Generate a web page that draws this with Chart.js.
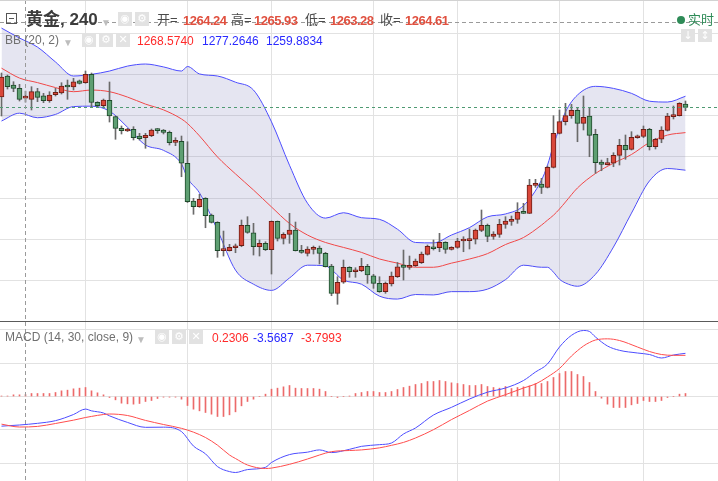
<!DOCTYPE html>
<html>
<head>
<meta charset="utf-8">
<script src="https://cdn.jsdelivr.net/npm/chart.js@4.4.1/dist/chart.umd.min.js"></script>
<style>
  body { margin: 0; background: #fff; font-family: "Liberation Sans", Arial, "Noto Sans CJK SC", sans-serif; }
  #wrap { position: relative; width: 718px; height: 481px; overflow: hidden; }
  #mainBox { position: absolute; left: 0; top: 0; width: 718px; height: 321px; }
  #macdBox { position: absolute; left: 0; top: 322px; width: 718px; height: 159px; }
  .sep { position: absolute; left: 0; top: 321px; width: 718px; height: 1px; background: #5a5a5a; }
  .topline { position: absolute; left: 0; top: 0; width: 718px; height: 1px; background: #d2d2d2; }
  .t { position: absolute; white-space: nowrap; line-height: 16px; }
  .title { font-size: 17px; font-weight: bold; color: #3c3c3c; line-height: 20px; }
  .lbl { font-size: 12px; color: #707070; }
  .eq { font-size: 13px; color: #4a4a4a; }
  .ohlc { font-size: 13px; font-weight: bold; color: #e0503f; letter-spacing: -0.5px; }
  .red { font-size: 12px; color: #ff2a2a; }
  .blue { font-size: 12px; color: #2a2aff; }
  .caret { font-size: 10px; color: #bdbdbd; }
  .btn { position: absolute; width: 14px; height: 14px; background: #e2e2e2; color: #fff;
         font: 11px/14px "DejaVu Sans", sans-serif; text-align: center; }
  .box { position: absolute; left: 6px; top: 13px; width: 9px; height: 9px; border: 1px solid #555; }
  .box:after { content: ""; position: absolute; left: 2px; right: 2px; top: 4px; height: 1px; background: #555; }
  .dot { position: absolute; left: 677px; top: 16px; width: 8px; height: 8px; border-radius: 50%; background: #2e8b57; }
  .live { font-size: 13px; color: #2e8b57; }
</style>
</head>
<body>
<div id="wrap">
  <div id="mainBox"><canvas id="mainChart" width="718" height="321"></canvas></div>
  <div class="sep"></div>
  <div id="macdBox"><canvas id="macdChart" width="718" height="159"></canvas></div>
  <div class="topline"></div>

  <!-- legend, main pane -->
  <div class="box"></div>
  <div class="t title" style="left:26px;top:10px">黄金, 240</div>
  <div class="t caret" style="left:101px;top:15px">▼</div>
  <div class="btn" style="left:118px;top:12px">◉</div>
  <div class="btn" style="left:135px;top:12px">⚙</div>
  <div class="t eq" style="left:157px;top:12px">开=</div>
  <div class="t ohlc" style="left:183px;top:13px">1264.24</div>
  <div class="t eq" style="left:231px;top:12px">高=</div>
  <div class="t ohlc" style="left:254px;top:13px">1265.93</div>
  <div class="t eq" style="left:305px;top:12px">低=</div>
  <div class="t ohlc" style="left:330px;top:13px">1263.28</div>
  <div class="t eq" style="left:380px;top:12px">收=</div>
  <div class="t ohlc" style="left:405px;top:13px">1264.61</div>

  <div class="dot"></div>
  <div class="t live" style="left:688px;top:12px">实时</div>
  <div class="btn" style="left:681px;top:29px;height:13px;line-height:13px">↓</div>
  <div class="btn" style="left:698px;top:29px;height:13px;line-height:13px">↕</div>

  <div class="t lbl" style="left:5px;top:32px">BB (20, 2)</div>
  <div class="t caret" style="left:63px;top:35px">▼</div>
  <div class="btn" style="left:82px;top:33px">◉</div>
  <div class="btn" style="left:99px;top:33px">⚙</div>
  <div class="btn" style="left:116px;top:33px">✕</div>
  <div class="t red" style="left:137px;top:33px">1268.5740</div>
  <div class="t blue" style="left:202px;top:33px">1277.2646</div>
  <div class="t blue" style="left:266px;top:33px">1259.8834</div>

  <!-- legend, MACD pane -->
  <div class="t lbl" style="left:5px;top:329px">MACD (14, 30, close, 9)</div>
  <div class="t caret" style="left:136px;top:332px">▼</div>
  <div class="btn" style="left:155px;top:330px">◉</div>
  <div class="btn" style="left:172px;top:330px">⚙</div>
  <div class="btn" style="left:189px;top:330px">✕</div>
  <div class="t red" style="left:212px;top:330px">0.2306</div>
  <div class="t blue" style="left:253px;top:330px">-3.5687</div>
  <div class="t red" style="left:301px;top:330px">-3.7993</div>
</div>

<script>
// 240-minute gold bars, oldest first
const open = [1264.52,1269.60,1267.42,1266.62,1264.24,1263.96,1265.80,1264.83,1263.62,1265.07,
  1265.48,1267.25,1266.94,1268.46,1267.98,1270.01,1263.23,1262.41,1263.72,1259.75,
  1256.94,1256.28,1256.70,1255.07,1254.66,1255.15,1256.77,1256.53,1255.97,1253.55,
  1253.79,1248.47,1239.34,1237.96,1239.99,1235.95,1234.18,1227.31,1227.31,1228.03,
  1228.52,1233.45,1231.66,1228.27,1229.10,1227.55,1234.42,1230.31,1231.28,1232.32,
  1227.40,1226.68,1227.64,1227.96,1226.68,1223.60,1216.99,1219.66,1223.29,1222.22,
  1222.46,1223.53,1221.25,1219.41,1217.38,1219.24,1221.01,1223.84,1223.29,1223.67,
  1224.40,1226.43,1228.13,1228.03,1229.34,1227.64,1228.13,1229.65,1229.73,1230.07,
  1232.24,1233.45,1230.79,1231.28,1233.70,1234.42,1234.91,1236.51,1236.36,1243.09,
  1243.45,1242.65,1247.50,1255.73,1258.54,1259.99,1261.30,1258.15,1259.92,1255.49,
  1248.78,1248.13,1248.47,1250.40,1252.82,1251.85,1254.66,1255.00,1256.70,1252.48,
  1254.28,1256.45,1259.75,1259.99,1262.82];
const high = [1270.33,1269.84,1268.22,1267.59,1265.93,1267.01,1266.62,1265.41,1265.80,1266.62,
  1267.98,1268.63,1269.04,1268.63,1270.81,1270.33,1263.38,1264.03,1268.15,1259.92,
  1257.50,1256.94,1257.33,1255.73,1255.73,1256.77,1256.89,1256.65,1256.28,1254.66,
  1255.07,1253.69,1239.99,1240.96,1240.14,1236.19,1234.33,1232.07,1228.85,1228.93,
  1234.74,1235.54,1233.94,1229.90,1229.48,1234.50,1234.50,1231.66,1236.36,1234.25,
  1228.61,1228.27,1228.44,1228.44,1226.92,1224.01,1221.01,1225.05,1223.43,1223.19,
  1225.47,1224.01,1221.59,1221.01,1219.73,1222.15,1224.45,1227.47,1226.02,1225.30,
  1226.99,1228.69,1229.90,1231.52,1229.48,1228.27,1230.31,1230.69,1232.56,1232.56,
  1237.16,1233.77,1231.91,1234.91,1235.54,1235.71,1238.93,1238.78,1244.59,1244.59,
  1244.83,1247.81,1259.99,1261.37,1262.99,1262.75,1261.78,1264.76,1261.78,1256.70,
  1249.26,1249.68,1251.03,1254.28,1255.32,1256.12,1255.32,1257.50,1256.94,1254.52,
  1257.33,1260.57,1262.34,1263.14,1263.55];
const low = [1259.92,1266.45,1265.80,1263.55,1263.28,1261.37,1263.38,1263.14,1263.23,1264.76,
  1265.24,1263.96,1266.21,1267.66,1267.83,1262.10,1262.17,1262.17,1258.46,1254.28,
  1255.56,1256.16,1254.11,1254.11,1252.10,1254.91,1255.73,1255.56,1252.90,1252.73,
  1245.22,1238.97,1236.12,1237.81,1232.87,1234.01,1225.71,1226.02,1227.23,1226.82,
  1228.27,1231.52,1226.26,1226.02,1227.35,1221.66,1229.65,1228.93,1229.10,1227.23,
  1226.68,1226.02,1226.51,1224.09,1223.36,1216.41,1214.33,1219.41,1220.87,1220.87,
  1222.22,1219.41,1218.20,1217.23,1216.99,1218.76,1220.82,1220.21,1222.80,1223.48,
  1224.21,1226.26,1227.47,1227.06,1226.68,1227.47,1227.89,1227.06,1227.72,1228.93,
  1231.91,1229.48,1230.07,1230.55,1232.73,1233.45,1233.94,1236.31,1236.31,1242.65,
  1241.15,1242.49,1247.33,1255.56,1257.74,1259.36,1253.69,1256.53,1250.06,1246.04,
  1246.67,1248.05,1247.64,1248.05,1249.43,1251.68,1254.52,1254.66,1251.68,1251.93,
  1253.45,1256.28,1259.19,1259.92,1261.20];
const close = [1269.36,1267.01,1266.62,1263.96,1264.61,1265.80,1264.44,1263.62,1265.00,1265.65,
  1267.18,1266.94,1268.22,1267.83,1270.01,1263.18,1262.41,1263.79,1259.92,1256.94,
  1256.36,1256.70,1254.66,1254.42,1255.24,1256.53,1256.36,1255.97,1253.45,1253.69,
  1248.47,1239.17,1237.96,1239.75,1235.78,1234.18,1227.31,1227.47,1228.13,1228.44,
  1233.45,1231.76,1228.27,1229.10,1227.55,1234.42,1230.31,1231.28,1232.32,1227.31,
  1226.92,1227.72,1227.96,1226.68,1223.43,1216.99,1219.66,1223.29,1222.22,1222.63,
  1223.53,1221.42,1219.41,1217.38,1219.41,1221.18,1223.43,1223.29,1223.77,1224.81,
  1226.51,1228.37,1227.79,1229.34,1227.64,1228.13,1229.65,1229.90,1230.07,1232.32,
  1233.45,1230.79,1231.35,1233.70,1234.50,1234.91,1236.60,1236.36,1243.21,1243.62,
  1242.65,1247.50,1255.73,1258.54,1259.99,1261.30,1258.15,1259.60,1255.24,1248.61,
  1248.22,1248.47,1250.40,1252.82,1251.68,1254.76,1255.07,1256.70,1252.48,1254.28,
  1256.53,1259.92,1259.92,1262.99,1262.02];

// Bollinger bands (20, 2), read at these bar numbers
const bandAt = [0,3,6,9,12,15,18,21,24,27,30,31,33,36,39,42,45,48,51,54,57,60,63,66,69,72,75,78,81,84,
  87,90,91,92,93,94,96,99,102,105,108,111,114];
const bbUpper = [1281.2,1278.8,1276.6,1273.0,1269.6,1270.0,1270.8,1272.0,1272.5,1271.8,
  1270.8,1271.9,1270.1,1269.6,1268.1,1266.2,1258.5,1248.0,1238.8,1235.2,
  1236.5,1235.3,1234.9,1232.5,1229.3,1229.2,1231.1,1232.9,1235.5,1236.2,
  1238.2,1244.4,1248.0,1252.9,1257.0,1260.9,1265.0,1267.1,1266.6,1265.4,
  1263.5,1263.3,1264.7];
const bbBasis = [1271.5,1269.1,1268.0,1266.8,1265.8,1266.2,1265.8,1264.5,1262.8,1261.4,
  1259.2,1258.1,1255.1,1250.0,1245.9,1242.0,1237.9,1233.9,1231.1,1229.3,
  1228.1,1226.9,1225.3,1224.3,1223.3,1223.3,1224.3,1225.3,1226.6,1228.8,
  1230.5,1233.5,1234.7,1235.9,1237.4,1239.1,1242.5,1246.0,1248.5,1250.6,
  1253.5,1255.3,1255.9];
const bbLower = [1258.7,1260.6,1259.5,1260.3,1262.2,1262.3,1261.1,1257.2,1252.9,1251.6,
  1248.3,1244.9,1241.3,1232.3,1222.6,1219.2,1217.7,1220.7,1223.8,1223.6,
  1220.2,1219.2,1216.3,1215.6,1216.7,1216.6,1217.4,1217.4,1218.0,1220.3,
  1223.8,1223.3,1223.3,1222.1,1220.4,1219.5,1218.7,1221.6,1228.2,1236.4,
  1244.2,1247.2,1246.8];

// MACD (14, 30, close, 9)
const macdAt = [0,3,6,9,12,14,15,17,18,21,24,27,30,32,34,36,38,39,41,44,
  45,48,51,53,55,58,60,63,65,67,69,72,75,78,81,84,87,89,91,93,
  95,97,98,99,101,103,106,108,110,112,114];
const macdLine = [-3.56,-3.42,-3.22,-2.90,-2.16,-1.51,-1.72,-1.98,-2.32,-3.11,
  -3.70,-3.68,-4.21,-5.95,-6.88,-8.41,-9.01,-9.12,-8.77,-8.50,
  -7.92,-6.97,-6.68,-6.41,-6.73,-6.34,-5.98,-5.78,-5.58,-4.50,
  -3.78,-2.22,-1.30,-0.30,0.52,1.02,1.92,2.94,3.90,5.94,
  7.34,7.92,7.80,7.14,6.06,5.54,5.22,5.04,4.62,4.98,5.18];
const signalLine = [-3.32,-3.66,-3.59,-3.24,-2.84,-2.52,-2.39,-2.16,-2.10,-2.28,
  -2.87,-3.36,-3.82,-4.28,-4.92,-5.84,-7.02,-7.44,-8.22,-8.64,
  -8.59,-8.14,-7.50,-7.02,-6.62,-6.48,-6.41,-6.16,-5.86,-5.51,
  -4.98,-3.98,-2.77,-1.67,-0.55,0.22,1.02,1.50,2.34,3.36,
  4.86,6.06,6.48,6.78,6.92,6.72,5.94,5.40,5.04,4.94,4.94];
const macdHist = [0.05,0.05,0.20,0.20,0.23,0.36,0.36,0.36,0.36,0.48,
  0.68,0.76,0.92,1.00,1.08,0.68,0.44,0.20,-0.12,-0.40,
  -0.80,-0.88,-0.92,-0.84,-0.60,-0.48,-0.24,-0.08,-0.08,-0.08,
  -0.32,-1.08,-1.52,-1.72,-1.92,-2.12,-2.40,-2.40,-2.20,-1.84,
  -1.12,-0.60,-0.32,0,0.28,0.88,1.00,1.16,1.32,1.00,
  0.96,0.96,0.96,0.88,0.60,0,-0.12,0,0.04,0.36,
  0.48,0.60,0.60,0.48,0.48,0.60,0.84,1.08,1.24,1.44,
  1.56,1.80,1.80,1.92,1.80,1.64,1.56,1.44,1.32,1.32,
  1.44,1.20,1.08,1.00,1.20,0.96,1.08,1.16,1.28,1.56,
  1.56,1.80,2.28,2.76,3.00,3.00,2.64,2.40,1.68,0.60,
  -0.20,-0.92,-1.32,-1.32,-1.32,-1.00,-0.84,-0.48,-0.60,-0.60,
  -0.48,-0.12,0,0.28,0.36];

// grid positions
const priceTicks = [1220, 1230, 1240, 1250, 1260, 1270, 1280];
const macdTicks = [-8, -4, 0, 4, 8];
const timeTicks = [14, 31, 45, 62, 76, 93, 107];

// crosshair
const crossBar = 4;
const crossPrice = 1282.75;

const gridColor = '#e2e2e2';
const upFill = '#d9473a', upLine = '#6e1e16';
const downFill = '#5e9f72', downLine = '#1f4a2b';

// dashed lines drawn over the plot
const markLines = {
  id: 'markLines',
  afterDatasetsDraw(chart, args, opts) {
    const {ctx, chartArea: a, scales: {x, y}} = chart;
    ctx.save();
    ctx.lineWidth = 1;
    (opts.lines || []).forEach(l => {
      ctx.strokeStyle = l.color;
      ctx.setLineDash(l.dash);
      ctx.beginPath();
      if (l.axis === 'y') {
        const py = Math.round(y.getPixelForValue(l.value)) + 0.5;
        ctx.moveTo(a.left, py); ctx.lineTo(a.right, py);
      } else {
        const px = Math.round(x.getPixelForValue(l.value)) + 0.5;
        ctx.moveTo(px, a.top); ctx.lineTo(px, a.bottom);
      }
      ctx.stroke();
    });
    ctx.restore();
  }
};

function xScale() {
  return {
    type: 'linear', min: -0.25, max: 119.42, offset: false,
    ticks: {display: false}, border: {display: false},
    grid: {color: gridColor, drawTicks: false, offset: false},
    afterBuildTicks: s => { s.ticks = timeTicks.map(v => ({value: v})); }
  };
}
function yScale(min, max, list) {
  return {
    type: 'linear', min, max,
    ticks: {display: false}, border: {display: false},
    grid: {color: gridColor, drawTicks: false},
    afterBuildTicks: s => { s.ticks = list.map(v => ({value: v})); }
  };
}

const bars = open.map((_, i) => i);
const up = bars.map(i => close[i] >= open[i]);
const pts = (at, vals) => at.map((x, k) => ({x, y: vals[k]}));

const bandLine = (data, color) => ({
  type: 'line', data, borderColor: color, borderWidth: 1, pointRadius: 0,
  cubicInterpolationMode: 'monotone', fill: false, order: 5
});

const upperSet = bandLine(pts(bandAt, bbUpper), '#4d4dff');
upperSet.fill = 2;
upperSet.backgroundColor = 'rgba(100,100,170,0.17)';

new Chart(document.getElementById('mainChart'), {
  type: 'bar',
  data: {
    datasets: [
      upperSet,
      Object.assign(bandLine(pts(bandAt, bbBasis), '#f04848'), {order: 4}),
      bandLine(pts(bandAt, bbLower), '#4d4dff'),
      {
        type: 'bar', data: bars.map(i => ({x: i, y: [low[i], high[i]]})),
        backgroundColor: '#6a6a6a', barThickness: 1, grouped: false, order: 2
      },
      {
        type: 'bar', data: bars.map(i => ({x: i, y: [open[i], close[i]]})),
        backgroundColor: bars.map(i => up[i] ? upFill : downFill),
        borderColor: bars.map(i => up[i] ? upLine : downLine),
        borderWidth: 1, borderSkipped: false, barThickness: 5, minBarLength: 2,
        grouped: false, order: 1
      }
    ]
  },
  options: {
    responsive: false, animation: false, events: [],
    layout: {padding: 0, autoPadding: false},
    scales: {x: xScale(), y: yScale(1210.29, 1288.0, priceTicks)},
    plugins: {
      legend: {display: false}, tooltip: {enabled: false},
      markLines: {lines: [
        {axis: 'y', value: close[close.length - 1], color: '#4f9a72', dash: [3, 3]},
        {axis: 'y', value: crossPrice, color: '#9a9a9a', dash: [4, 3]},
        {axis: 'x', value: crossBar, color: '#9a9a9a', dash: [4, 3]}
      ]}
    }
  },
  plugins: [markLines]
});

new Chart(document.getElementById('macdChart'), {
  type: 'bar',
  data: {
    datasets: [
      {
        type: 'bar', data: bars.map(i => ({x: i, y: macdHist[i]})),
        backgroundColor: '#ec6a6a', barThickness: 1, grouped: false, order: 3
      },
      {
        type: 'line', data: pts(macdAt, macdLine), borderColor: '#4d4dff', borderWidth: 1,
        pointRadius: 0, cubicInterpolationMode: 'monotone', order: 2
      },
      {
        type: 'line', data: pts(macdAt, signalLine), borderColor: '#ff4d4d', borderWidth: 1,
        pointRadius: 0, cubicInterpolationMode: 'monotone', order: 1
      }
    ]
  },
  options: {
    responsive: false, animation: false, events: [],
    layout: {padding: 0, autoPadding: false},
    scales: {x: xScale(), y: yScale(-10.14, 8.94, macdTicks)},
    plugins: {
      legend: {display: false}, tooltip: {enabled: false},
      markLines: {lines: [
        {axis: 'x', value: crossBar, color: '#9a9a9a', dash: [4, 3]}
      ]}
    }
  },
  plugins: [markLines]
});
</script>
</body>
</html>
